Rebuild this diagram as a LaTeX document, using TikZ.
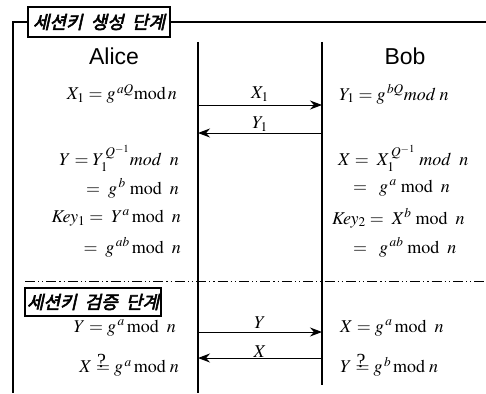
\documentclass[tikz,border=0pt]{standalone}
\usepackage{amsmath}
\usepackage{mathptmx}
\usepackage{fontspec}
\setmainfont{Liberation Serif}
\setsansfont{Liberation Sans}
\newfontfamily\krfont[FakeSlant=0.22,FakeBold=3]{Noto Sans CJK KR}
\newcommand{\qeq}{\mathrel{\rlap{\raisebox{5.5pt}{\kern1pt\fontsize{20}{20}\selectfont ?}}{=}}}
\usetikzlibrary{arrows.meta, positioning}
\tikzset{
  party/.style    = {font=\fontsize{23}{27}\selectfont\sffamily},
  eqL/.style      = {anchor=east, inner sep=1pt, font=\fontsize{18}{21}\selectfont},
  eqR/.style      = {anchor=west, inner sep=1pt, font=\fontsize{18}{21}\selectfont},
  stage/.style    = {draw, line width=1.3pt, inner sep=2pt, font=\fontsize{18}{21}\selectfont\krfont},
  arrow/.style    = {line width=1pt, ->, >={Stealth[length=12pt,width=9pt]}},
  lifeline/.style = {line width=1.4pt},
  sepline/.style  = {line width=0.9pt, dash pattern=on 10pt off 3pt on 1.2pt off 3pt on 1.2pt off 3pt},
}

\begin{document}
\begin{tikzpicture}[x=1pt, y=-1pt, every node/.style={font=\fontsize{18}{21}\selectfont}]
    \useasboundingbox (0,0) rectangle (486,393);

    % session key generation
    \node[stage, minimum width=142pt, minimum height=30pt] (gen) at (99,22)
      {세션키\ \ 생성\ \ 단계};
    \coordinate (frameTL) at (13,22);
    \coordinate (frameBL) at (13,393);
    \coordinate (frameR)  at (486,22);
    \draw[line width=1.3pt] (gen.west) -- (frameTL) -- (frameBL);
    \draw[line width=1.3pt] (gen.east) -- (frameR);

    \node[party] (alice) at (114,56) {Alice};
    \node[party] (bob)   at (405,56) {Bob};

    \coordinate (aTop) at (198,42);  \coordinate (aBot) at (198,393);
    \coordinate (bTop) at (322,42);  \coordinate (bBot) at (322,385);
    \draw[lifeline] (aTop) -- (aBot);
    \draw[lifeline] (bTop) -- (bBot);

    \node[eqL] (x1a) at (178,94) {$X_1 = g^{\,aQ}\mathrm{mod}\,n$};
    \node[eqR] (y1b) at (338,94) {$Y_1 = g^{\,bQ}mod\;n$};

    \coordinate (a1) at (198,105);  \coordinate (b1) at (322,105);
    \coordinate (a2) at (198,133);  \coordinate (b2) at (322,133);
    \draw[arrow] (a1) -- node[above] (m1) {$X_1$} (b1);
    \draw[arrow] (b2) -- node[above, inner sep=1pt] (m2) {$Y_1$} (a2);

    \node[eqL] (ya)   at (180,158) {$Y = Y_1^{\,Q^{-1}} mod\;\;n$};
    \node[eqL] (gba)  at (180,188) {$=\;g^{\,b}\;\mathrm{mod}\;\;n$};
    \node[eqL] (k1)   at (182,218) {$K\!ey_1 =\;Y^{a}\,\mathrm{mod}\;\;n$};
    \node[eqL] (gaba) at (182,247) {$=\;g^{\,ab}\,\mathrm{mod}\;\;n$};

    \node[eqR] (xb)   at (337,158) {$X = \;X_1^{\,Q^{-1}}\; mod\;\;n$};
    \node[eqR] (gab)  at (352,188) {$=\;\;g^{\,a}\;\mathrm{mod}\;\;n$};
    \node[eqR] (k2)   at (331,218) {$K\!ey_2 = \;X^{b}\;\mathrm{mod}\;\;n$};
    \node[eqR] (gabb) at (352,247) {$=\;\;g^{\,ab}\;\mathrm{mod}\;\;n$};

    % session key verification
    \coordinate (sepL) at (25,281);  \coordinate (sepR) at (484,281);
    \draw[sepline] (sepL) -- (sepR);

    \node[stage, minimum width=126pt, minimum height=28pt] (ver) at (93,302)
      {세션키\ \ 검증\ \ 단계};

    \node[eqL] (yv)  at (177,328) {$Y = g^{\,a}\,\mathrm{mod}\;\;n$};
    \node[eqR] (xv)  at (339,328) {$X = g^{\,a}\,\mathrm{mod}\;\;n$};

    \coordinate (a3) at (198,332);  \coordinate (b3) at (322,332);
    \coordinate (a4) at (198,358);  \coordinate (b4) at (322,358);
    \draw[arrow] (a3) -- node[above] (m3) {$Y$} (b3);
    \draw[arrow] (b4) -- node[above, inner sep=0.5pt] (m4) {$X$} (a4);

    \node[eqL] (xc)  at (180,365) {$X \qeq g^{\,a}\,\mathrm{mod}\;n$};
    \node[eqR] (yc)  at (339,365) {$Y \qeq g^{\,b}\,\mathrm{mod}\;n$};

  \end{tikzpicture}
\end{document}
